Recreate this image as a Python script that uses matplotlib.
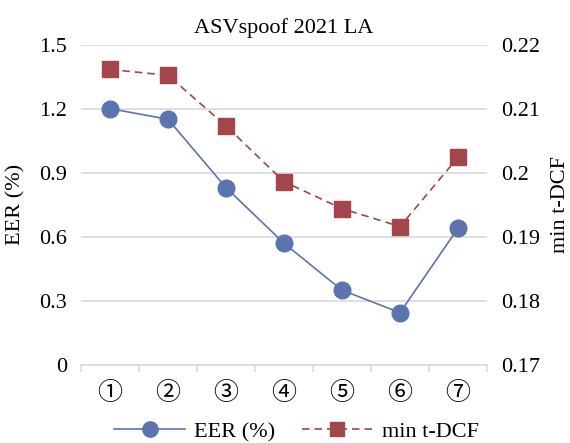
import matplotlib
matplotlib.use("Agg")
import matplotlib.pyplot as plt
from matplotlib.lines import Line2D

categories = ["①", "②", "③", "④", "⑤", "⑥", "⑦"]
eer = [1.20, 1.15, 0.83, 0.57, 0.35, 0.245, 0.64]
min_tdcf = [0.2161, 0.2152, 0.2073, 0.1986, 0.1944, 0.1916, 0.2024]
eer_ticks = [0, 0.3, 0.6, 0.9, 1.2, 1.5]
eer_ticklabels = ["0", "0.3", "0.6", "0.9", "1.2", "1.5"]
tdcf_ticks = [0.17, 0.18, 0.19, 0.20, 0.21, 0.22]
tdcf_ticklabels = ["0.17", "0.18", "0.19", "0.2", "0.21", "0.22"]

plt.rcParams['font.family'] = ['Liberation Serif', 'Noto Sans CJK JP', 'DejaVu Sans']
plt.rcParams['font.size'] = 16

blue = "#5B74B0"
red = "#A2464B"
grid_c = "#D9D9D9"

fig = plt.figure(figsize=(5.70, 4.43), dpi=100)
ax = fig.add_axes([81/570, 1-365/443, (487-81)/570, (365-44.5)/443])
ax2 = ax.twinx()

x = list(range(len(categories)))
ax.plot(x, eer, color=blue, lw=1.2, marker='o', ms=12, zorder=3)
ax2.plot(x, min_tdcf, color=red, lw=1.2, ls=(0, (4.5, 3)), marker='s', ms=11.5, zorder=3)

ax.set_xlim(-0.5, len(categories) - 0.5)
ax.set_ylim(0, 1.5)
ax2.set_ylim(0.17, 0.22)
ax.set_yticks(eer_ticks)
ax.set_yticklabels(eer_ticklabels)
ax2.set_yticks(tdcf_ticks)
ax2.set_yticklabels(tdcf_ticklabels)

ax.set_xticks(x)
ax.set_xticklabels(categories, fontsize=18)
ax.set_xticks([i - 0.5 for i in range(len(categories) + 1)], minor=True)
ax.tick_params(axis='x', which='major', length=0, pad=12)
ax.tick_params(axis='x', which='minor', length=5, color=grid_c, width=1.2)
ax.tick_params(axis='y', length=0, pad=10)
ax2.tick_params(axis='y', length=0, pad=10)

ax.grid(axis='y', color=grid_c, lw=1.2)
ax.set_axisbelow(True)
for a in (ax, ax2):
    for s in ('top', 'left', 'right', 'bottom'):
        a.spines[s].set_visible(False)
ax.spines['bottom'].set_visible(True)
ax.spines['bottom'].set_color(grid_c)
ax.spines['bottom'].set_linewidth(1.2)

ax.set_ylabel("EER (%)", labelpad=10)
ax2.set_ylabel("min t-DCF", labelpad=8)
ax.set_title("ASVspoof 2021 LA", fontsize=16, pad=8)

handles = [
    Line2D([], [], color=blue, lw=1.2, marker='o', ms=11),
    Line2D([], [], color=red, lw=1.2, ls=(0, (4.5, 3)), marker='s', ms=10.5),
]
fig.legend(handles, ["EER (%)", "min t-DCF"], loc='center', bbox_to_anchor=(0.52, 0.025),
           ncol=2, frameon=False, handlelength=3.2, columnspacing=1.2, handletextpad=0.4,
           fontsize=16)

fig.savefig("out.png", dpi=100)
